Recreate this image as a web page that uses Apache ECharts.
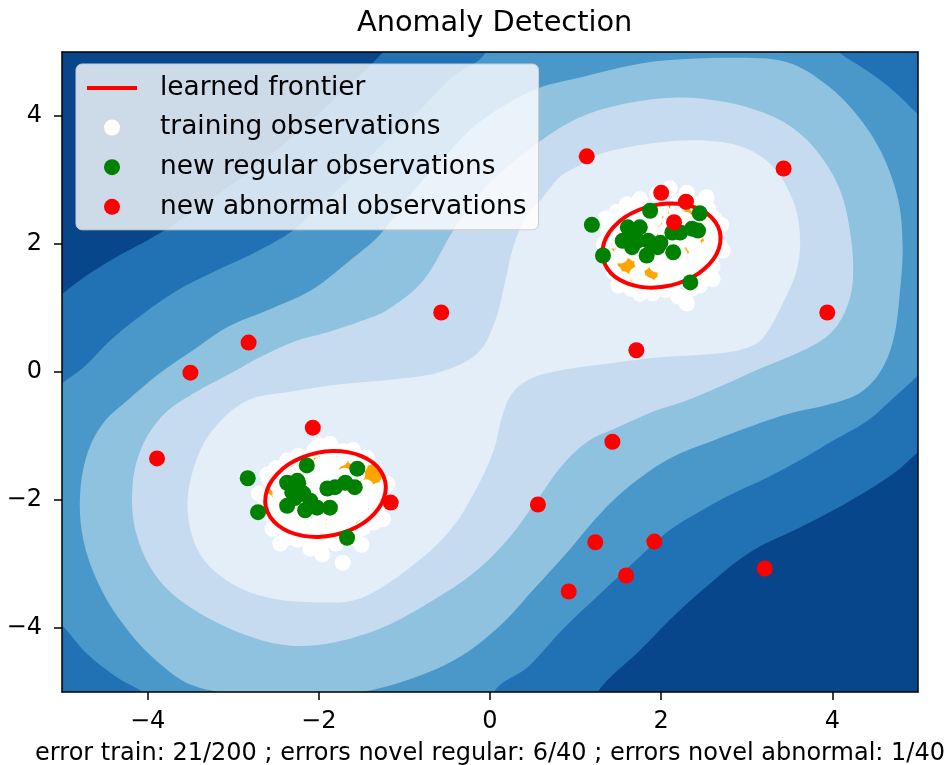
<!DOCTYPE html>
<html>
<head>
<meta charset="utf-8">
<script src="https://cdn.jsdelivr.net/npm/echarts@6/dist/echarts.min.js"></script>
<style>
  html, body { margin: 0; padding: 0; background: #ffffff; }
  #chart { width: 949px; height: 765px; }
</style>
</head>
<body>
<div id="chart"></div>
<script>
// Axis ticks
const tickValues = [-4, -2, 0, 2, 4];

// Filled decision-function levels, darkest (outside) to lightest (inside)
const bandColors = ['#08468b', '#2171b5', '#4a98c9', '#8fc2de', '#c6dbef', '#e3eef9'];

// Outline of each band region (data coordinates); parts outside [-5, 5] are clipped
const level1 = [[1.11,-5.6],[1.25,-5.01],[1.75,-4.35],[2.18,-3.77],[2.61,-3.26],[3.07,-2.79],[3.62,-2.43],[4.21,-2.01],[4.71,-1.59],[5.02,-1.23],[5.6,-0.6],[7,0],[7,7],[0,7],[-0.9,5.6],[-1.25,5.0],[-1.75,4.35],[-2.2,3.8],[-2.65,3.3],[-3.1,2.85],[-3.7,2.3],[-4.0,2.06],[-4.36,1.8],[-4.7,1.52],[-5.02,1.2],[-5.6,0.6],[-7,0],[-7,-7],[0,-7]];
const level2 = [[-0.3,-6.5],[0.05,-5.0],[0.45,-4.6],[0.85,-4.02],[1.3,-3.45],[1.7,-2.95],[2.07,-2.5],[2.45,-2.18],[2.84,-1.9],[3.24,-1.65],[3.62,-1.38],[4.01,-1.07],[4.41,-0.76],[4.7,-0.42],[5.0,-0.05],[5.6,0.8],[6.5,1.5],[6.5,2.8],[5.35,3.6],[4.99,4.04],[4.71,4.40],[4.40,4.71],[4.09,4.98],[3.75,5.4],[3.3,6.5],[0.3,6.5],[-0.05,5.0],[-0.45,4.6],[-0.85,4.05],[-1.3,3.5],[-1.7,2.95],[-2.07,2.5],[-2.3,2.21],[-2.77,1.85],[-3.19,1.59],[-3.66,1.27],[-4.05,0.91],[-4.44,0.49],[-4.75,0.07],[-5.0,-0.18],[-5.6,-0.9],[-6.5,-1.5],[-6.5,-2.8],[-5.35,-3.6],[-5.02,-3.93],[-4.71,-4.40],[-4.36,-4.77],[-4.05,-5.01],[-3.75,-5.4],[-3.3,-6.5]];
const level3 = [[2.84,4.91],[2.07,4.87],[1.64,4.79],[1.05,4.6],[0.5,4.4],[-0.12,3.91],[-0.5,3.41],[-0.9,2.82],[-1.29,2.14],[-1.64,1.74],[-2.10,1.27],[-2.61,0.96],[-3.07,0.70],[-3.47,0.34],[-3.86,-0.02],[-4.24,-0.45],[-4.52,-0.8],[-4.71,-1.3],[-4.79,-1.96],[-4.75,-2.63],[-4.59,-3.26],[-4.32,-3.88],[-3.94,-4.46],[-3.47,-4.9],[-2.8,-5.05],[-2.22,-5.08],[-1.69,-5.04],[-1.05,-4.85],[-0.39,-4.48],[0.12,-3.96],[0.50,-3.41],[0.90,-2.82],[1.29,-2.21],[1.64,-1.77],[2.10,-1.35],[2.61,-1.07],[3.07,-0.84],[3.50,-0.65],[4.01,-0.49],[4.35,-0.3],[4.58,0.05],[4.72,0.55],[4.79,1.27],[4.82,1.96],[4.77,2.68],[4.59,3.38],[4.32,3.96],[3.94,4.48],[3.47,4.84]];
const level4 = [[-0.43,2.21],[-0.15,2.75],[0.2,3.2],[0.6,3.62],[1.05,3.98],[1.6,4.2],[2.2,4.29],[2.75,4.22],[3.2,4.05],[3.55,3.8],[3.85,3.4],[4.09,2.84],[4.21,2.16],[4.24,1.45],[4.15,0.95],[3.95,0.57],[3.6,0.3],[3.15,0.05],[2.7,-0.22],[2.25,-0.47],[1.9,-0.62],[1.5,-0.86],[1.15,-1.08],[0.85,-1.45],[0.55,-2.0],[0.2,-2.63],[-0.2,-3.15],[-0.67,-3.57],[-1.25,-3.99],[-1.8,-4.22],[-2.3,-4.28],[-2.77,-4.15],[-3.39,-3.77],[-3.86,-3.26],[-4.12,-2.58],[-4.18,-1.85],[-4.07,-1.18],[-3.8,-0.65],[-3.42,-0.3],[-3.0,0.0],[-2.69,0.23],[-2.3,0.47],[-1.9,0.62],[-1.5,0.8],[-1.2,0.97],[-0.78,1.43]];
const level5 = [[-0.93,-3.05],[-0.47,-2.48],[-0.15,-1.8],[0.05,-1.2],[0.14,-0.7],[0.25,-0.35],[0.45,-0.12],[0.8,0.02],[1.37,0.13],[1.99,0.23],[2.6,0.28],[2.96,0.36],[3.18,0.52],[3.42,1.07],[3.59,1.63],[3.62,2.16],[3.54,2.68],[3.31,3.2],[2.96,3.51],[2.45,3.62],[1.87,3.57],[1.29,3.41],[1.09,3.26],[0.82,3.05],[0.6,2.7],[0.43,2.45],[0.27,1.95],[0.18,1.43],[0.06,0.8],[-0.14,0.3],[-0.58,0.0],[-1.17,-0.12],[-1.75,-0.19],[-2.3,-0.3],[-2.84,-0.45],[-3.27,-0.96],[-3.48,-1.59],[-3.53,-2.21],[-3.39,-2.84],[-3.07,-3.26],[-2.61,-3.52],[-1.99,-3.6],[-1.52,-3.54]];

// Learned frontier (decision function = 0), one closed curve per cluster
const frontierLow = [[-1.224,-1.708],[-1.222,-1.880],[-1.266,-2.055],[-1.356,-2.219],[-1.485,-2.364],[-1.643,-2.475],[-1.820,-2.548],[-2.005,-2.578],[-2.181,-2.561],[-2.342,-2.500],[-2.474,-2.398],[-2.568,-2.264],[-2.619,-2.105],[-2.621,-1.933],[-2.577,-1.758],[-2.487,-1.594],[-2.359,-1.448],[-2.201,-1.338],[-2.023,-1.264],[-1.839,-1.234],[-1.662,-1.252],[-1.501,-1.313],[-1.369,-1.414],[-1.276,-1.548]];
const frontierHigh = [[2.686,2.188],[2.690,2.019],[2.648,1.847],[2.562,1.684],[2.438,1.541],[2.284,1.430],[2.111,1.353],[1.931,1.320],[1.756,1.330],[1.597,1.388],[1.466,1.481],[1.373,1.613],[1.321,1.766],[1.317,1.934],[1.359,2.106],[1.445,2.269],[1.569,2.413],[1.723,2.523],[1.896,2.600],[2.076,2.633],[2.251,2.623],[2.410,2.566],[2.541,2.472],[2.634,2.341]];

// Training observations
const trainingPoints = [
  [-1.87,-1.12],[-2.05,-1.22],[-1.72,-1.24],[-2.37,-1.38],[-2.24,-1.31],[-1.44,-1.34],[-1.9,-1.3],[-1.58,-1.33],
  [-2.5,-1.5],[-2.32,-1.52],[-2.15,-1.48],[-1.98,-1.45],[-1.82,-1.41],[-1.52,-1.45],
  [-2.58,-1.68],[-2.42,-1.62],[-2.2,-1.6],[-2.02,-1.58],[-1.85,-1.55],[-1.7,-1.62],[-1.55,-1.6],
  [-2.48,-1.78],[-2.3,-1.75],[-2.12,-1.72],[-1.95,-1.7],[-1.78,-1.72],[-1.62,-1.75],[-1.45,-1.8],[-1.3,-1.85],
  [-2.62,-2.02],[-2.45,-1.92],[-2.28,-1.9],[-2.1,-1.88],[-1.93,-1.85],[-1.75,-1.88],[-1.58,-1.92],[-1.4,-1.95],[-1.27,-2.0],
  [-2.55,-2.1],[-2.38,-2.05],[-2.2,-2.02],[-2.02,-2.0],[-1.85,-2.02],[-1.68,-2.05],[-1.5,-2.08],[-1.33,-2.12],
  [-2.61,-2.2],[-2.45,-2.22],[-2.28,-2.18],[-2.1,-2.15],[-1.92,-2.18],[-1.75,-2.2],[-1.58,-2.22],[-1.42,-2.28],
  [-2.52,-2.36],[-2.35,-2.32],[-2.18,-2.3],[-2.0,-2.33],[-1.82,-2.35],[-1.65,-2.38],[-1.48,-2.43],
  [-2.54,-2.45],[-2.37,-2.5],[-2.22,-2.45],[-2.05,-2.46],[-1.88,-2.5],[-1.72,-2.52],[-1.56,-2.5],
  [-2.37,-2.59],[-2.1,-2.76],[-1.72,-2.98],[-1.95,-2.66],[-2.25,-2.62],[-1.62,-2.6],
  [-2.61,-2.16],[-1.32,-2.16],[-2.7,-1.9],[-1.2,-1.75],[-1.35,-2.35],
  [-2.0,-1.15],[-1.6,-1.22],[-2.45,-2.68],[-1.5,-2.7],
  [-1.96,-2.85],[-2.12,-2.58],[-1.8,-2.68],[-2.6,-1.6],[-1.9,-1.55],[-2.25,-1.85],[-1.65,-1.9],
  [-1.25,-2.3],[-2.05,-1.78],[-1.7,-2.3],[-2.4,-2.15],[-2.15,-1.35],[-1.75,-1.35],[-2.3,-2.4],[-1.6,-2.05],
  [2.1,2.87],[1.95,2.78],[2.3,2.8],[2.53,2.73],[1.75,2.7],[1.6,2.62],[2.2,2.66],[2.4,2.62],
  [1.48,2.5],[1.65,2.52],[1.82,2.5],[2.0,2.55],[2.18,2.5],[2.55,2.55],[2.62,2.4],
  [1.4,2.35],[1.58,2.38],[1.75,2.4],[1.92,2.38],[2.1,2.35],[2.28,2.38],[2.45,2.35],[2.6,2.28],
  [1.38,2.2],[1.52,2.18],[1.7,2.2],[1.88,2.22],[2.05,2.2],[2.22,2.25],[2.4,2.15],[2.58,2.12],
  [1.33,2.0],[1.68,2.02],[1.85,2.0],[2.02,2.05],[2.2,2.0],[2.38,1.98],[2.55,1.95],[2.68,1.98],
  [1.35,1.85],[1.52,1.82],[1.7,1.85],[1.88,1.82],[2.05,1.85],[2.22,1.82],[2.4,1.8],[2.58,1.78],
  [1.4,1.7],[1.78,1.7],[1.95,1.68],[2.12,1.7],[2.3,1.65],[2.48,1.68],[2.6,1.65],
  [1.45,1.55],[1.72,1.52],[2.05,1.52],[2.22,1.5],[2.4,1.52],[2.53,1.59],
  [1.55,1.45],[1.78,1.4],[2.0,1.38],[2.15,1.4],[2.32,1.42],
  [1.9,1.23],[2.3,1.07],[2.72,1.9],[2.05,1.28],[2.45,1.35],[1.65,1.3],
  [2.7,2.3],[1.5,1.35],[2.2,1.18],[1.75,1.22],[2.6,1.45],[1.35,2.4],
  [1.62,1.9],[1.98,1.92],[2.32,2.08],[2.12,2.1],[1.8,2.08],[2.48,1.88],[1.6,2.05],[2.25,1.6],
  [1.45,2.05],[2.5,2.45],[1.85,1.35],[2.1,1.55],[1.5,2.28],[2.35,1.3]
];

// New regular observations
const regularPoints = [
  [-2.83,-1.66],[-2.71,-2.19],[-2.14,-1.46],[-1.55,-1.51],[-2.37,-1.73],[-2.25,-1.70],[-2.31,-1.88],[-2.18,-1.90],
  [-2.10,-2.01],[-2.37,-2.09],[-2.16,-2.16],[-2.02,-2.12],[-1.87,-2.12],[-1.90,-1.82],[-1.81,-1.80],[-1.69,-1.73],
  [-1.58,-1.80],[-1.67,-2.59],[-2.24,-1.74],[-2.28,-1.97],
  [1.19,2.30],[1.32,1.82],[1.87,2.52],[2.45,2.48],[1.61,2.26],[1.75,2.26],[1.69,2.13],[1.85,2.05],
  [1.66,1.95],[1.83,1.82],[1.96,1.95],[2.14,1.87],[2.13,2.18],[2.22,2.18],[2.36,2.24],[2.43,2.21],
  [2.34,1.40],[1.55,2.05],[1.99,2.02],[1.72,2.05]
];

// New abnormal observations
const abnormalPoints = [
  [1.13,3.37],[3.43,3.18],[2.00,2.80],[2.29,2.66],[2.15,2.34],[-0.57,0.93],[3.94,0.93],[-2.82,0.46],
  [-3.50,-0.01],[1.71,0.34],[-3.89,-1.35],[-2.07,-0.87],[1.43,-1.09],[-1.16,-2.04],[0.56,-2.07],[1.23,-2.66],
  [1.92,-2.65],[1.59,-3.18],[0.92,-3.43],[3.21,-3.07]
];

// Error counts shown under the plot
const nErrorsTrain = 21, nTrain = 200;
const nErrorsRegular = 6, nRegular = 40;
const nErrorsAbnormal = 1, nAbnormal = 40;

const FONT = 'DejaVu Sans';
const contourRings = [level1, level2, level3, level4, level5];
const frontierRings = [frontierLow, frontierHigh];

function clipRect(params) {
  const cs = params.coordSys;
  return { type: 'rect', shape: { x: cs.x, y: cs.y, width: cs.width, height: cs.height } };
}

function ringPoints(api, ring) {
  return ring.map(p => api.coord(p));
}

const minusFmt = v => (v < 0 ? '\u2212' + Math.abs(v) : String(v));

const chart = echarts.init(document.getElementById('chart'));

chart.setOption({
  animation: false,
  backgroundColor: '#ffffff',
  title: {
    text: 'Anomaly Detection',
    left: 352,
    top: 4,
    textStyle: { fontFamily: FONT, fontSize: 28.8, fontWeight: 'normal', color: '#000' }
  },
  legend: {
    orient: 'vertical',
    left: 76,
    top: 64,
    itemWidth: 50,
    itemHeight: 16,
    itemGap: 13.6,
    padding: [11, 12, 10, 11],
    backgroundColor: 'rgba(255,255,255,0.8)',
    borderColor: '#cccccc',
    borderWidth: 1,
    borderRadius: 6,
    selectedMode: false,
    textStyle: { fontFamily: FONT, fontSize: 26.4, color: '#000', padding: [0, 0, 0, 18] },
    data: [
      { name: 'learned frontier', icon: 'path://M0,0H50V4H0Z' },
      { name: 'training observations', icon: 'circle' },
      { name: 'new regular observations', icon: 'circle' },
      { name: 'new abnormal observations', icon: 'circle' }
    ],
    z: 20
  },
  grid: {
    left: 62, right: 31, top: 52, bottom: 73,
    show: true,
    backgroundColor: bandColors[0],
    borderWidth: 0,
    containLabel: false,
    outerBoundsMode: 'none'
  },
  xAxis: [{
    type: 'value', min: -5, max: 5, z: 10,
    name: `error train: ${nErrorsTrain}/${nTrain} ; errors novel regular: ${nErrorsRegular}/${nRegular} ; errors novel abnormal: ${nErrorsAbnormal}/${nAbnormal}`,
    nameLocation: 'middle',
    nameGap: 50,
    nameTextStyle: { fontFamily: FONT, fontSize: 24, color: '#000' },
    axisLine: { show: true, onZero: false, lineStyle: { color: '#000', width: 1.5 } },
    axisTick: { show: true, length: 8, customValues: tickValues, lineStyle: { color: '#000', width: 1.5 } },
    axisLabel: { show: true, margin: 18, customValues: tickValues, formatter: minusFmt,
                 fontFamily: FONT, fontSize: 24, color: '#000' },
    splitLine: { show: false }
  }, {
    type: 'value', min: -5, max: 5, position: 'top', z: 10,
    axisLine: { show: true, onZero: false, lineStyle: { color: '#000', width: 1.5 } },
    axisTick: { show: false }, axisLabel: { show: false }, splitLine: { show: false }
  }],
  yAxis: [{
    type: 'value', min: -5, max: 5, z: 10,
    axisLine: { show: true, onZero: false, lineStyle: { color: '#000', width: 1.5 } },
    axisTick: { show: true, length: 8, customValues: tickValues, lineStyle: { color: '#000', width: 1.5 } },
    axisLabel: { show: true, margin: 20, customValues: tickValues, formatter: minusFmt,
                 fontFamily: FONT, fontSize: 24, color: '#000' },
    splitLine: { show: false }
  }, {
    type: 'value', min: -5, max: 5, position: 'right', z: 10,
    axisLine: { show: true, onZero: false, lineStyle: { color: '#000', width: 1.5 } },
    axisTick: { show: false }, axisLabel: { show: false }, splitLine: { show: false }
  }],
  series: [
    {
      // filled decision-function bands
      type: 'custom',
      name: 'decision function',
      silent: true,
      z: 1,
      data: contourRings.map((_, i) => [0, 0, i]),
      renderItem: (params, api) => {
        const i = params.dataIndex;
        return {
          type: 'polygon',
          shape: { points: ringPoints(api, contourRings[i]), smooth: 0.35 },
          style: { fill: bandColors[i + 1], stroke: null },
          clipPath: clipRect(params)
        };
      }
    },
    {
      // inside of the frontier
      type: 'custom',
      name: 'inlier region',
      silent: true,
      z: 2,
      data: frontierRings.map((_, i) => [0, 0, i]),
      renderItem: (params, api) => ({
        type: 'polygon',
        shape: { points: ringPoints(api, frontierRings[params.dataIndex]), smooth: 0.4 },
        style: { fill: '#ffa500', stroke: null },
        clipPath: clipRect(params)
      })
    },
    {
      type: 'scatter', name: 'training observations', silent: true, z: 3,
      symbol: 'circle', symbolSize: 16,
      itemStyle: { color: '#ffffff', opacity: 1 },
      data: trainingPoints
    },
    {
      type: 'custom',
      name: 'learned frontier',
      silent: true,
      z: 4,
      itemStyle: { color: '#ff0000' },
      data: frontierRings.map((_, i) => [0, 0, i]),
      renderItem: (params, api) => ({
        type: 'polygon',
        shape: { points: ringPoints(api, frontierRings[params.dataIndex]), smooth: 0.4 },
        style: { fill: 'none', stroke: '#ff0000', lineWidth: 4 },
        clipPath: clipRect(params)
      })
    },
    {
      type: 'scatter', name: 'new regular observations', silent: true, z: 5,
      symbol: 'circle', symbolSize: 16,
      itemStyle: { color: '#008000', opacity: 1 },
      data: regularPoints
    },
    {
      type: 'scatter', name: 'new abnormal observations', silent: true, z: 6,
      symbol: 'circle', symbolSize: 16,
      itemStyle: { color: '#ff0000', opacity: 1 },
      data: abnormalPoints
    }
  ]
});
</script>
</body>
</html>
